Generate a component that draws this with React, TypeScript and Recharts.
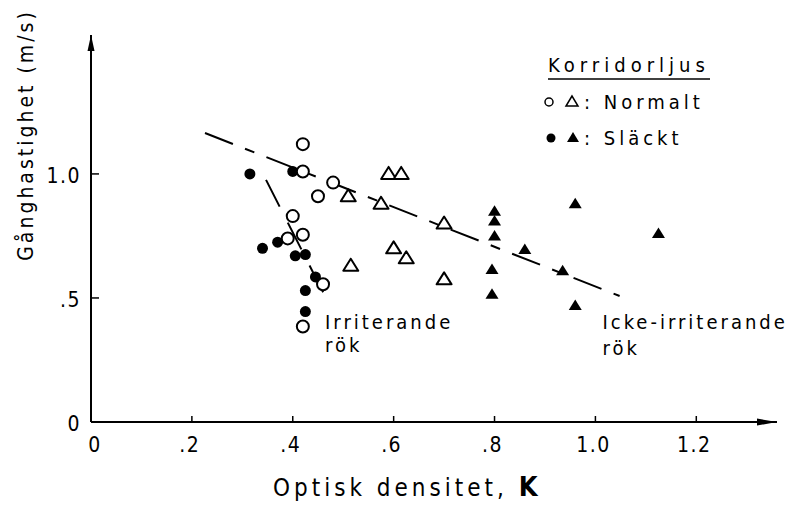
import React from "react";
import {
  ScatterChart,
  Scatter,
  XAxis,
  YAxis,
  ReferenceLine,
  ReferenceDot,
  Legend,
  Label,
} from "recharts";

const FONT = "'DejaVu Sans Condensed', 'DejaVu Sans', sans-serif";

// tick values and their printed labels
const xTicks = [0, 0.2, 0.4, 0.6, 0.8, 1.0, 1.2];
const xTickLabels = ["0", ".2", ".4", ".6", ".8", "1.0", "1.2"];
const yTicks = [0, 0.5, 1.0];
const yTickLabels = ["0", ".5", "1.0"];

// Korridorljus: Normalt, irriterande rök (open circles)
const normaltCircles = [
  { x: 0.42, y: 1.12 },
  { x: 0.42, y: 1.01 },
  { x: 0.48, y: 0.965 },
  { x: 0.45, y: 0.91 },
  { x: 0.4, y: 0.83 },
  { x: 0.42, y: 0.755 },
  { x: 0.39, y: 0.74 },
  { x: 0.46, y: 0.555 },
  { x: 0.42, y: 0.385 },
];

// Släckt, irriterande rök (filled circles)
const slacktCircles = [
  { x: 0.315, y: 1.0 },
  { x: 0.4, y: 1.01 },
  { x: 0.34, y: 0.7 },
  { x: 0.37, y: 0.725 },
  { x: 0.405, y: 0.67 },
  { x: 0.425, y: 0.675 },
  { x: 0.445, y: 0.585 },
  { x: 0.425, y: 0.53 },
  { x: 0.425, y: 0.445 },
];

// Normalt, icke-irriterande rök (open triangles)
const normaltTriangles = [
  { x: 0.51, y: 0.91 },
  { x: 0.59, y: 1.0 },
  { x: 0.615, y: 1.0 },
  { x: 0.575, y: 0.88 },
  { x: 0.7, y: 0.8 },
  { x: 0.6, y: 0.7 },
  { x: 0.625, y: 0.66 },
  { x: 0.515, y: 0.63 },
  { x: 0.7, y: 0.575 },
];

// Släckt, icke-irriterande rök (filled triangles)
const slacktTriangles = [
  { x: 0.8, y: 0.85 },
  { x: 0.8, y: 0.81 },
  { x: 0.8, y: 0.75 },
  { x: 0.86, y: 0.695 },
  { x: 0.795, y: 0.615 },
  { x: 0.795, y: 0.515 },
  { x: 0.96, y: 0.88 },
  { x: 1.125, y: 0.76 },
  { x: 0.935, y: 0.61 },
  { x: 0.96, y: 0.47 },
];

// hand drawn trend lines
const irriterandeLine = [
  { x: 0.347, y: 0.976 },
  { x: 0.473, y: 0.472 },
];
const ickeLine = [
  { x: 0.226, y: 1.165 },
  { x: 1.048, y: 0.508 },
];

const OpenCircle = ({ cx, cy }: any) => (
  <circle cx={cx} cy={cy} r={6} fill="#fff" stroke="#000" strokeWidth={2} />
);
const FilledCircle = ({ cx, cy }: any) => (
  <circle cx={cx} cy={cy} r={5.5} fill="#000" />
);
const OpenTriangle = ({ cx, cy }: any) => (
  <polygon
    points={`${cx},${cy - 7} ${cx - 7.5},${cy + 5} ${cx + 7.5},${cy + 5}`}
    fill="#fff"
    stroke="#000"
    strokeWidth={2}
    strokeLinejoin="round"
  />
);
const FilledTriangle = ({ cx, cy }: any) => (
  <polygon
    points={`${cx},${cy - 6} ${cx - 6.5},${cy + 4.5} ${cx + 6.5},${cy + 4.5}`}
    fill="#000"
  />
);

const XTick = ({ x, y, payload }: any) => {
  const i = xTicks.indexOf(payload.value);
  return (
    <g>
      {payload.value !== 0 && (
        <line x1={x} x2={x} y1={y} y2={y - 6} stroke="#000" strokeWidth={1.5} />
      )}
      <text x={x + (payload.value === 0 ? 4 : -2)} y={y + 30} textAnchor="middle" fontFamily={FONT} fontSize={21} letterSpacing={1.5}>
        {xTickLabels[i]}
      </text>
    </g>
  );
};

const YTick = ({ x, y, payload }: any) => {
  const i = yTicks.indexOf(payload.value);
  return (
    <g>
      {payload.value !== 0 && (
        <line x1={x} x2={x + 8} y1={y} y2={y} stroke="#000" strokeWidth={1.5} />
      )}
      <text x={x - 10} y={y + 9} textAnchor="end" fontFamily={FONT} fontSize={21} letterSpacing={1.5}>
        {yTickLabels[i]}
      </text>
    </g>
  );
};

const textShape = (label: string) => ({ cx, cy }: any) => (
  <text x={cx} y={cy + 7} fontFamily={FONT} fontSize={20} letterSpacing={3}>
    {label}
  </text>
);

const ArrowUp = ({ cx, cy }: any) => (
  <polygon points={`${cx},${cy} ${cx - 3.5},${cy + 16} ${cx + 3.5},${cy + 16}`} fill="#000" />
);
const ArrowRight = ({ cx, cy }: any) => (
  <polygon points={`${cx},${cy} ${cx - 20},${cy - 3.5} ${cx - 20},${cy + 3.5}`} fill="#000" />
);

const LegendBox = () => (
  <svg width={230} height={110}>
    <text x={8} y={24} fontFamily={FONT} fontSize={20} letterSpacing={5}>
      Korridorljus
    </text>
    <line x1={8} x2={170} y1={31} y2={31} stroke="#000" strokeWidth={1.5} />
    <circle cx={9} cy={54} r={4} fill="#fff" stroke="#000" strokeWidth={1.5} />
    <polygon points="32,48 26,58 38,58" fill="#fff" stroke="#000" strokeWidth={1.5} />
    <text x={44} y={61} fontFamily={FONT} fontSize={20} letterSpacing={4}>
      : Normalt
    </text>
    <circle cx={11} cy={90} r={4.5} fill="#000" />
    <polygon points="33,84 27,94 39,94" fill="#000" />
    <text x={44} y={97} fontFamily={FONT} fontSize={20} letterSpacing={4}>
      : Släckt
    </text>
  </svg>
);

export default function App() {
  return (
    <div style={{ position: "absolute", left: 0, top: 0, background: "#fff" }}>
      <ScatterChart
        width={794}
        height={506}
        margin={{ top: 35, right: 17, bottom: 54, left: 31 }}
      >
        <XAxis
          type="number"
          dataKey="x"
          domain={[0, 1.36]}
          ticks={xTicks}
          allowDataOverflow
          height={30}
          tickSize={0}
          tickMargin={0}
          tick={<XTick />}
          axisLine={{ stroke: "#000", strokeWidth: 2 }}
          tickLine={false}
        >
          <Label
            content={({ viewBox }: any) => (
              <text
                x={viewBox.x + 182}
                y={viewBox.y + 74}
                fontFamily={FONT}
                fontSize={24}
                letterSpacing={4}
              >
                Optisk densitet,{" "}
                <tspan fontWeight="bold" fontSize={27}>
                  K
                </tspan>
              </text>
            )}
          />
        </XAxis>
        <YAxis
          type="number"
          dataKey="y"
          domain={[0, 1.56]}
          ticks={yTicks}
          allowDataOverflow
          width={60}
          tickSize={0}
          tickMargin={0}
          tick={<YTick />}
          axisLine={{ stroke: "#000", strokeWidth: 2 }}
          tickLine={false}
        >
          <Label
            content={() => (
              <text
                x={26}
                y={135}
                transform="rotate(-90, 26, 135)"
                textAnchor="middle"
                dominantBaseline="central"
                fontFamily={FONT}
                fontSize={21}
                letterSpacing={3}
              >
                Gånghastighet (m/s)
              </text>
            )}
          />
        </YAxis>

        <ReferenceLine
          segment={ickeLine}
          stroke="#000"
          strokeWidth={2}
          strokeDasharray="30 13 10 13"
          ifOverflow="visible"
        />
        <ReferenceLine
          segment={irriterandeLine}
          stroke="#000"
          strokeWidth={2}
          strokeDasharray="30 18"
          ifOverflow="visible"
        />

        <Scatter data={slacktCircles} shape={(p: any) => <FilledCircle {...p} />} isAnimationActive={false} />
        <Scatter data={normaltCircles} shape={(p: any) => <OpenCircle {...p} />} isAnimationActive={false} />
        <Scatter data={normaltTriangles} shape={(p: any) => <OpenTriangle {...p} />} isAnimationActive={false} />
        <Scatter data={slacktTriangles} shape={(p: any) => <FilledTriangle {...p} />} isAnimationActive={false} />

        <ReferenceDot x={0.464} y={0.405} ifOverflow="visible" shape={textShape("Irriterande")} />
        <ReferenceDot x={0.464} y={0.31} ifOverflow="visible" shape={textShape("rök")} />
        <ReferenceDot x={1.014} y={0.405} ifOverflow="visible" shape={textShape("Icke-irriterande")} />
        <ReferenceDot x={1.014} y={0.3} ifOverflow="visible" shape={textShape("rök")} />

        <ReferenceDot x={0} y={1.56} ifOverflow="visible" shape={<ArrowUp />} />
        <ReferenceDot x={1.36} y={0} ifOverflow="visible" shape={<ArrowRight />} />

        <Legend
          layout="horizontal"
          verticalAlign="middle"
          align="center"
          content={() => <LegendBox />}
          wrapperStyle={{ left: 540, top: 48, width: 230, height: 110 }}
        />
      </ScatterChart>
    </div>
  );
}
